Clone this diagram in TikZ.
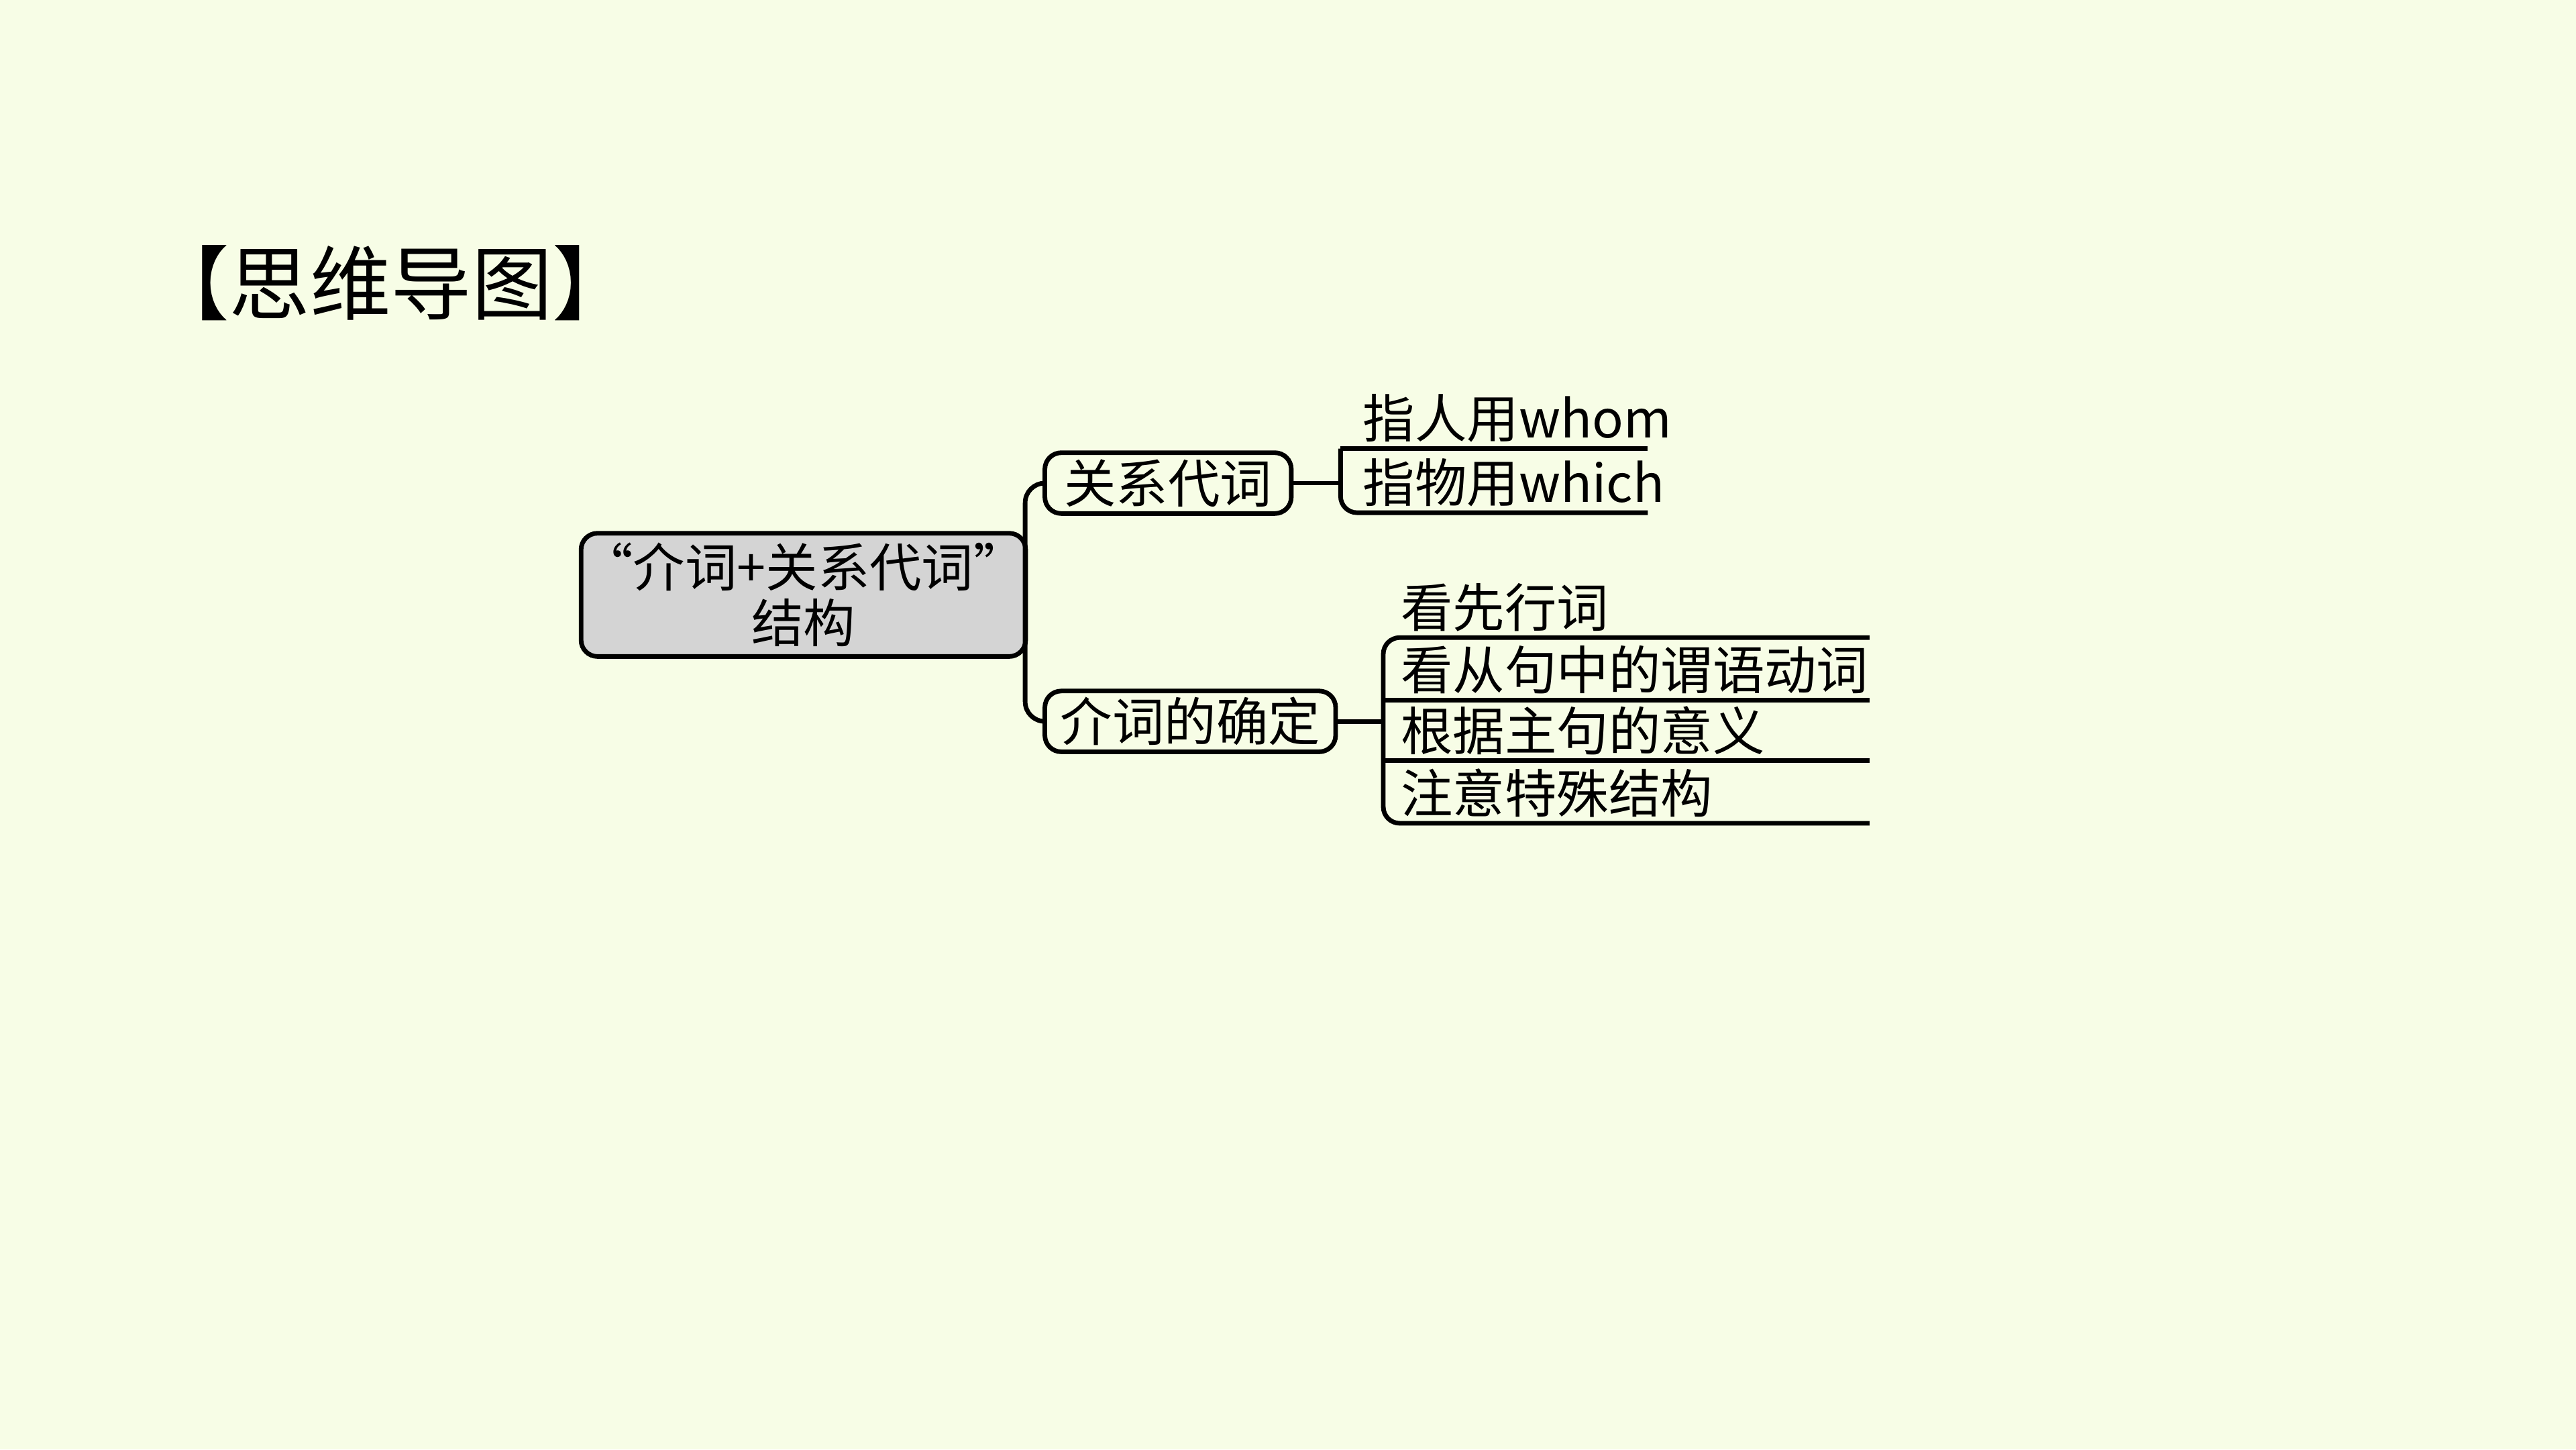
\documentclass[tikz,border=0pt]{standalone}
\usepackage{fontspec}
\setmainfont{Liberation Serif}
\newfontfamily\cjk{Noto Sans CJK SC}
\definecolor{bg}{HTML}{F7FDE6}
\definecolor{rootfill}{HTML}{D4D4D4}
\begin{document}
\begin{tikzpicture}[x=0.1mm,y=-0.1mm,
  line/.style={line width=0.28mm,black},
  box/.style={draw,line width=0.28mm,rounded corners=1mm,inner sep=0pt,font=\cjk\fontsize{9}{10}\selectfont},
  leaf/.style={anchor=south west,inner sep=0pt,font=\cjk\fontsize{9}{10}\selectfont}]
\fill[bg] (0,0) rectangle (1568,882);
\useasboundingbox (0,0) rectangle (1568,882);
\node[anchor=west,font=\cjk\fontsize{14}{16}\selectfont] (title) at (78,172) {【思维导图】};
% root
\node[box,fill=rootfill,minimum width=26mm,minimum height=7.5mm,align=center,font=\cjk\fontsize{9}{9.6}\selectfont] (root) at (489,362) {“介词+关系代词”\\结构};
\node[box,minimum width=15mm,minimum height=3.7mm] (a) at (711,294) {关系代词};
\node[box,minimum width=17.7mm,minimum height=3.7mm] (b) at (724.5,439) {介词的确定};
% bracket root
\coordinate (r1) at (624,362);
\draw[line,rounded corners=1.2mm] (a.west) -- (624,294) -- (624,439) -- (b.west);
\draw[line] (root.east) -- (r1);
% group a
\coordinate (a1) at (816,294);
\draw[line] (a.east) -- (a1);
\coordinate (u1s) at (816,273); \coordinate (u1e) at (1003,273);
\coordinate (u2s) at (816,312); \coordinate (u2e) at (1003,312);
\draw[line] (u1s) -- (u1e);
\draw[line,rounded corners=1mm] (u1s) -- (816,312) -- (u2e);
\node[leaf] (l1) at (829,270) {指人用whom};
\node[leaf] (l2) at (829,309) {指物用which};
% group b
\coordinate (b1) at (842,439);
\draw[line] (b.east) -- (b1);
\coordinate (v1) at (842,388); \coordinate (v1e) at (1138,388);
\coordinate (v2) at (842,426); \coordinate (v2e) at (1138,426);
\coordinate (v3) at (842,463); \coordinate (v3e) at (1138,463);
\coordinate (v4) at (842,501); \coordinate (v4e) at (1138,501);
\draw[line,rounded corners=1mm] (v1e) -- (v1) -- (v4) -- (v4e);
\draw[line] (v2) -- (v2e);
\draw[line] (v3) -- (v3e);
\node[leaf] (m1) at (852,385) {看先行词};
\node[leaf] (m2) at (852,423) {看从句中的谓语动词};
\node[leaf] (m3) at (852,460) {根据主句的意义};
\node[leaf] (m4) at (852,498) {注意特殊结构};
\end{tikzpicture}
\end{document}
